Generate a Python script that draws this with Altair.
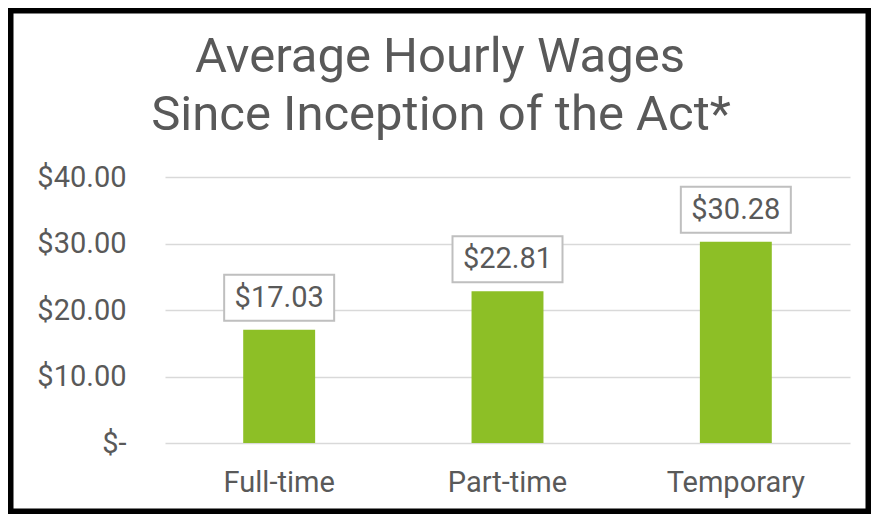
import altair as alt
import pandas as pd

categories = ["Full-time", "Part-time", "Temporary"]
wages = [17.03, 22.81, 30.28]
labels = ["$17.03", "$22.81", "$30.28"]
y_ticks = [0, 10, 20, 30, 40]
title_lines = ["Average Hourly Wages", "Since Inception of the Act*"]

df = pd.DataFrame({"cat": categories, "wage": wages, "label": labels})

FONT = "Roboto"
GRAY = "#595959"

x = alt.X("cat:N", sort=categories, title=None,
          scale=alt.Scale(paddingInner=0.685, paddingOuter=0.3425),
          axis=alt.Axis(labelAngle=0, labelFontSize=29, labelColor=GRAY, labelFont=FONT,
                        labelPadding=25, domain=False, ticks=False, grid=False))
y = alt.Y("wage:Q", title=None,
          scale=alt.Scale(domain=[0, 40], nice=False),
          axis=alt.Axis(values=y_ticks, grid=True, gridColor="#D9D9D9", gridWidth=1.5,
                        domain=False, ticks=False, labelFontSize=29, labelColor=GRAY,
                        labelFont=FONT, labelPadding=39,
                        labelExpr="datum.value == 0 ? '$-\u00a0\u00a0\u00a0' : '$' + format(datum.value, '.2f')"))

base = alt.Chart(df)

bars = base.mark_bar(color="#8DBF26").encode(x=x, y=y)

boxes = base.mark_bar(width=110, fill="white", stroke="#BFBFBF", strokeWidth=2,
                      yOffset=-55, y2Offset=-9).encode(
    x=x, y=y, y2=alt.Y2("wage:Q"))

texts = base.mark_text(yOffset=-32, baseline="middle", fontSize=29, font=FONT,
                       color=GRAY).encode(x=x, y=y, text="label:N")

title1 = alt.Chart(pd.DataFrame({"t": [title_lines[0]]})).mark_text(
    fontSize=49, font=FONT, color=GRAY, baseline="alphabetic", align="center").encode(
    x=alt.value(275), y=alt.value(-105.5), text="t:N")
title2 = alt.Chart(pd.DataFrame({"t": [title_lines[1]]})).mark_text(
    fontSize=49, font=FONT, color=GRAY, baseline="alphabetic", align="center").encode(
    x=alt.value(276), y=alt.value(-47), text="t:N")

border = alt.Chart(pd.DataFrame({"a": [0]})).mark_rect(
    filled=False, stroke="black", strokeWidth=5.5).encode(
    x=alt.value(-154.25), x2=alt.value(703.25),
    y=alt.value(-166.25), y2=alt.value(334.25))

chart = alt.layer(bars, boxes, texts, title1, title2, border).properties(
    width=685, height=266,
    background="white",
    padding={"left": 157, "top": 169, "right": 21, "bottom": 71},
    autosize=alt.AutoSizeParams(type="none"),
).configure_view(stroke="transparent", strokeWidth=0)

chart.save("out.html", embed_options={"renderer": "svg", "actions": False})
